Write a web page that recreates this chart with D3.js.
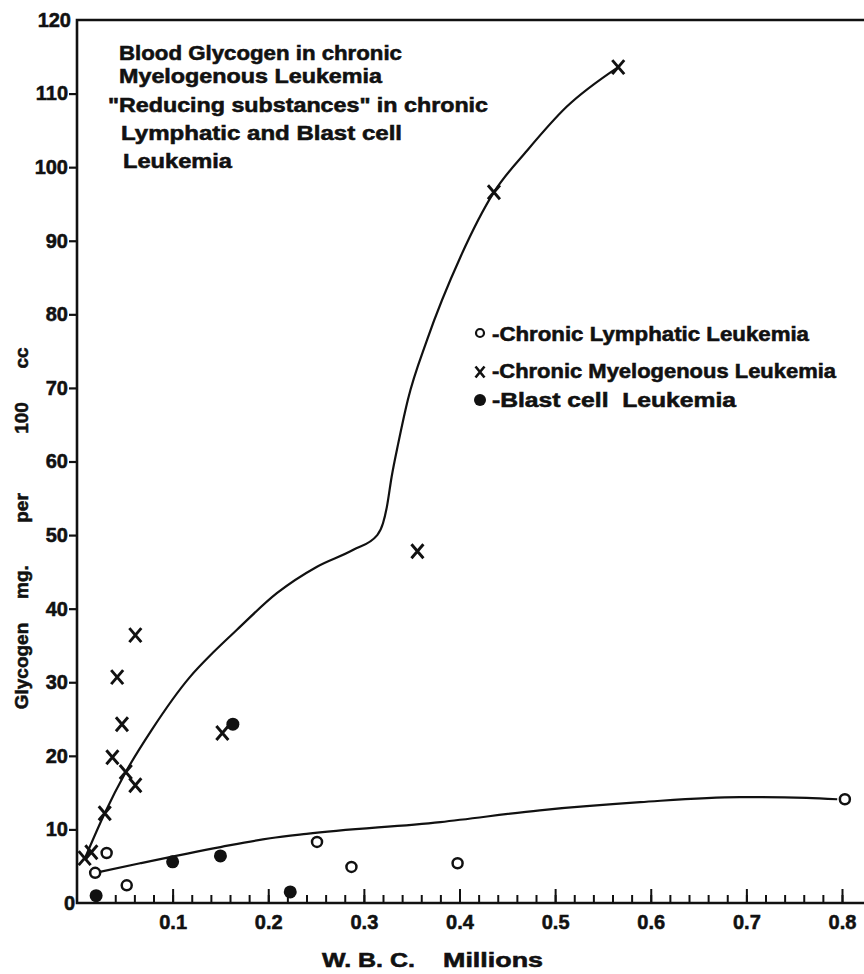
<!DOCTYPE html>
<html>
<head>
<meta charset="utf-8">
<title>Blood Glycogen in Leukemia</title>
<script src="https://d3js.org/d3.v7.min.js"></script>
<style>
body { margin: 0; background: #fff; }
svg text { font-family: "Liberation Sans", Arial, sans-serif; font-weight: bold; fill: #111;
           stroke: #111; stroke-width: 0.55px; }
</style>
</head>
<body>
<div id="chart"></div>
<script>
// W.B.C. (millions) and glycogen (mg per 100 cc)
// chronic lymphatic leukemia - open circles
var cllWbc = [0.019, 0.031, 0.052, 0.251, 0.287, 0.398, 0.803];
var cllGly = [4.1, 6.8, 2.4, 8.3, 4.9, 5.4, 14.1];

// chronic myelogenous leukemia - crosses
var cmlWbc = [0.008, 0.015, 0.029, 0.037, 0.051, 0.042, 0.047, 0.061, 0.061, 0.152, 0.356, 0.436, 0.566];
var cmlGly = [6.1, 6.9, 12.2, 19.8, 17.8, 30.7, 24.3, 36.4, 16.0, 23.1, 47.8, 96.6, 113.6];

// blast cell leukemia - filled dots
var blastWbc = [0.020, 0.100, 0.150, 0.163, 0.223];
var blastGly = [1.0, 5.6, 6.4, 24.3, 1.5];

// hand drawn curves
var cmlCurveWbc = [0.009, 0.029, 0.051, 0.078, 0.118, 0.142, 0.167, 0.209, 0.251, 0.289, 0.314, 0.320, 0.324, 0.329, 0.336, 0.346, 0.366, 0.401, 0.436, 0.471, 0.512, 0.566];
var cmlCurveGly = [6.3, 12.2, 17.8, 23.5, 30.7, 34.0, 37.1, 42.1, 45.7, 48.0, 50.0, 51.6, 53.8, 57.9, 62.5, 68.4, 76.5, 87.8, 96.6, 102.3, 108.2, 113.6];
var cllCurveWbc = [0.019, 0.066, 0.150, 0.202, 0.240, 0.380, 0.484, 0.589, 0.693, 0.763, 0.795];
var cllCurveGly = [4.1, 5.4, 7.6, 8.8, 9.4, 11.0, 12.6, 13.7, 14.4, 14.3, 14.1];

// ticks
var xMajorTicks = [0.1, 0.2, 0.3, 0.4, 0.5, 0.6, 0.7, 0.8];
var xTickLabels = ["0.1", "0.2", "0.3", "0.4", "0.5", "0.6", "0.7", "0.8"];
var xMinorTicks = d3.range(1, 41).map(function(i) { return i * 0.02; });
var yTicks = [0, 10, 20, 30, 40, 50, 60, 70, 80, 90, 100, 110, 120];

var titleLines = ["Blood Glycogen in chronic", "Myelogenous Leukemia",
                  "\"Reducing substances\" in chronic", "Lymphatic and Blast cell", "Leukemia"];
var legendLabels = ["-Chronic Lymphatic Leukemia", "-Chronic Myelogenous Leukemia", "-Blast cell  Leukemia"];

var margin = {top: 20, left: 77},
    W = 864, H = 974,
    width = W - margin.left,
    height = 903 - margin.top;

var svg = d3.select("#chart").append("svg")
    .attr("width", W).attr("height", H)
    .style("background", "#fff");

var g = svg.append("g")
    .attr("transform", "translate(" + margin.left + "," + margin.top + ")");

var x = d3.scaleLinear().domain([0, width / 956.25]).range([0, width]);
var y = d3.scaleLinear().domain([0, 120]).range([height, 0]);

// minor ticks on the x axis (pointing up)
g.append("g")
    .attr("transform", "translate(0," + height + ")")
    .call(d3.axisBottom(x).tickValues(xMinorTicks).tickSize(-8).tickFormat(""))
    .call(function(a) { a.select(".domain").remove(); })
    .selectAll("line").attr("stroke", "#111").attr("stroke-width", 2);

// major ticks + labels
g.append("g")
    .attr("transform", "translate(0," + height + ")")
    .call(d3.axisBottom(x).tickValues(xMajorTicks).tickSize(-14).tickPadding(12)
        .tickFormat(function(d, i) { return xTickLabels[i]; }))
    .call(function(a) {
        a.select(".domain").remove();
        a.selectAll("line").attr("stroke", "#111").attr("stroke-width", 2);
        a.selectAll("text").attr("font-size", "20px").attr("fill", "#111");
    });

// y axis
g.append("g")
    .call(d3.axisLeft(y).tickValues(yTicks).tickSize(8).tickPadding(1))
    .call(function(a) {
        a.select(".domain").remove();
        a.selectAll("line").attr("stroke", "#111").attr("stroke-width", 2.2)
            .attr("display", function(d) { return (d == 0 || d == 120) ? "none" : null; });
        a.selectAll("text").attr("font-size", "20px").attr("fill", "#111")
            .attr("dx", function(d) { return d == 0 ? 7 : (d == 120 ? 3 : 0); });
    });

// frame: left, bottom, top
g.append("path")
    .attr("d", "M" + width + ",0H0V" + height + "H" + width)
    .attr("fill", "none").attr("stroke", "#111").attr("stroke-width", 2.6);

// curves
var line = d3.line()
    .x(function(d) { return x(d[0]); })
    .y(function(d) { return y(d[1]); })
    .curve(d3.curveMonotoneX);

g.append("path")
    .datum(cmlCurveWbc.map(function(v, i) { return [v, cmlCurveGly[i]]; }))
    .attr("d", line).attr("fill", "none").attr("stroke", "#111").attr("stroke-width", 2.2);

g.append("path")
    .datum(cllCurveWbc.map(function(v, i) { return [v, cllCurveGly[i]]; }))
    .attr("d", line).attr("fill", "none").attr("stroke", "#111").attr("stroke-width", 2.2);

// crosses
var cross = function(s) { return "M" + (-s) + "," + (-s - 1) + "L" + s + "," + (s + 1) + "M" + (-s) + "," + (s + 1) + "L" + s + "," + (-s - 1); };

g.selectAll(".cml").data(cmlWbc).enter().append("path")
    .attr("class", "cml")
    .attr("transform", function(d, i) { return "translate(" + x(d) + "," + y(cmlGly[i]) + ")"; })
    .attr("d", cross(6)).attr("stroke", "#111").attr("stroke-width", 2.9).attr("fill", "none");

// open circles
g.selectAll(".cll").data(cllWbc).enter().append("circle")
    .attr("class", "cll")
    .attr("cx", function(d) { return x(d); })
    .attr("cy", function(d, i) { return y(cllGly[i]); })
    .attr("r", 5).attr("fill", "#fff").attr("stroke", "#111").attr("stroke-width", 2.5);

// filled dots
g.selectAll(".blast").data(blastWbc).enter().append("circle")
    .attr("class", "blast")
    .attr("cx", function(d) { return x(d); })
    .attr("cy", function(d, i) { return y(blastGly[i]); })
    .attr("r", 6.5).attr("fill", "#111");

// title block
var titleX = [119, 119, 108, 121, 123],
    titleY = [60, 83, 112, 140, 168],
    titleW = [283, 263, 380, 281, 109];
svg.selectAll(".title").data(titleLines).enter().append("text")
    .attr("class", "title")
    .attr("x", function(d, i) { return titleX[i]; })
    .attr("y", function(d, i) { return titleY[i]; })
    .attr("font-size", "20px")
    .attr("textLength", function(d, i) { return titleW[i]; })
    .attr("lengthAdjust", "spacingAndGlyphs")
    .text(function(d) { return d; });

// legend
var legY = [341, 378, 407], legW = [317, 344, 244];
var leg = svg.append("g");
leg.append("circle").attr("cx", 480).attr("cy", 333).attr("r", 4)
    .attr("fill", "#fff").attr("stroke", "#111").attr("stroke-width", 2.2);
leg.append("path").attr("transform", "translate(480,372)").attr("d", cross(4.5))
    .attr("stroke", "#111").attr("stroke-width", 2.6).attr("fill", "none");
leg.append("circle").attr("cx", 480).attr("cy", 400).attr("r", 6).attr("fill", "#111");
leg.selectAll("text").data(legendLabels).enter().append("text")
    .attr("x", 492)
    .attr("y", function(d, i) { return legY[i]; })
    .attr("font-size", "20px")
    .attr("textLength", function(d, i) { return legW[i]; })
    .attr("lengthAdjust", "spacingAndGlyphs")
    .style("white-space", "pre")
    .text(function(d) { return d; });

// x axis title
svg.append("text").attr("x", 322).attr("y", 967).attr("font-size", "20px")
    .attr("textLength", 93).attr("lengthAdjust", "spacingAndGlyphs").text("W. B. C.");
svg.append("text").attr("x", 443).attr("y", 967).attr("font-size", "20px")
    .attr("textLength", 100).attr("lengthAdjust", "spacingAndGlyphs").text("Millions");

// y axis title, word by word as set on the original
var yWords = ["Glycogen", "mg.", "per", "100", "cc"],
    yWordPos = [666, 582, 508, 418, 358];
svg.selectAll(".ylab").data(yWords).enter().append("text")
    .attr("class", "ylab")
    .attr("font-size", "19px")
    .attr("text-anchor", "middle")
    .attr("transform", function(d, i) { return "translate(28," + yWordPos[i] + ") rotate(-90)"; })
    .text(function(d) { return d; });
</script>
</body>
</html>
